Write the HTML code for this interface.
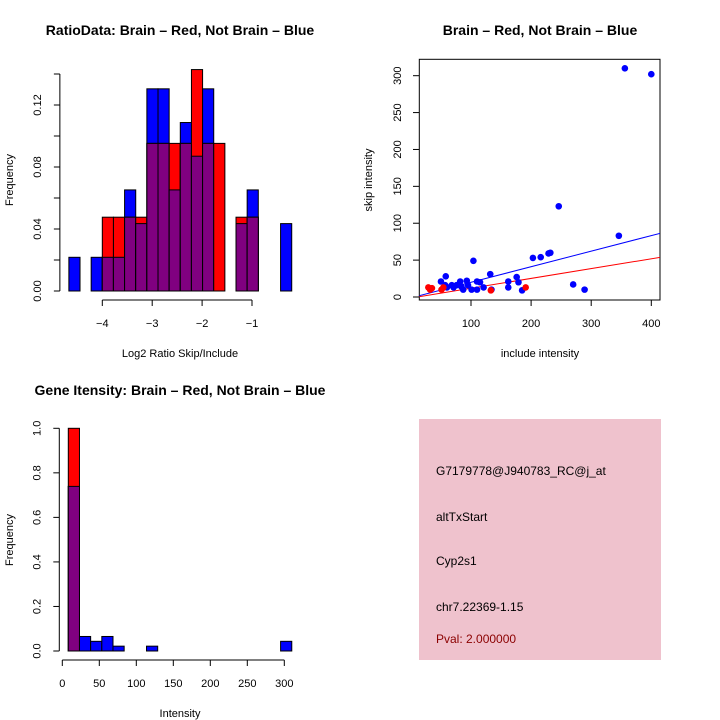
<!DOCTYPE html>
<html><head><meta charset="utf-8"><style>
body{margin:0;background:#fff}
svg{display:block;font-family:"Liberation Sans",Arial,sans-serif}
</style></head><body>
<svg id="s" width="720" height="720" viewBox="0 0 720 720">
<rect width="720" height="720" fill="#fff"/>
<g id="g1"></g>
<g id="g2"></g>
<g id="g3"></g>
<g>
<rect x="419" y="419" width="242" height="241" fill="#efc2cd"/>
<text x="436" y="475" font-size="12">G7179778@J940783_RC@j_at</text>
<text x="436" y="521" font-size="12">altTxStart</text>
<text x="436" y="565" font-size="12">Cyp2s1</text>
<text x="436" y="611" font-size="12">chr7.22369-1.15</text>
<text x="436" y="643" font-size="12" fill="#8b0000">Pval: 2.000000</text>
</g>
</svg>
<script>
// Histogram 1 data (fractions)
const ratioBinsN = 20;
const ratioRedCounts = [0,0,0,1,1,1,1,2,2,2,2,3,2,2,0,1,1,0,0,0];
const ratioBlueCounts = [1,0,1,1,1,3,2,6,6,3,5,4,6,0,0,2,3,0,0,2];
const ratioXTicks = [-4,-3,-2,-1];
const ratioYTicks = [0,0.02,0.04,0.06,0.08,0.10,0.12,0.14];
const ratioYLabels = ["0.00","","0.04","","0.08","","0.12",""];
// Scatter data
const blueX = [356,400,246,346,203,216,229,232,104,270,289,132,176,179,162,162,185,134,58,50,82,93,110,115,121,110,101,87,71,60,68,76,57,95,84];
const blueY = [310,302,123,83,53,54,59,60,49,17,10,31,27,20,21,13,9,10,28,21,21,22,21,20,13,10,10,10,13,13,16,16,16,16,14];
const redX = [29,35,32,51,191,133,54];
const redY = [13,12,10,10,13,9,13];
const blueLine = [-1.15,0.211];
const redLine = [-1.4,0.133];
const scXTicks = [100,200,300,400];
const scYTicks = [0,50,100,150,200,250,300];
// Histogram 3 data
const geneRedCounts = [21,0,0,0,0,0,0,0,0,0,0,0,0,0,0,0,0,0,0,0];
const geneBlueCounts = [34,3,2,3,1,0,0,1,0,0,0,0,0,0,0,0,0,0,0,2];
const geneXTicks = [0,50,100,150,200,250,300];
const geneYTicks = [0,0.2,0.4,0.6,0.8,1.0];
const geneYLabels = ["0.0","0.2","0.4","0.6","0.8","1.0"];

const NS="http://www.w3.org/2000/svg";
function mk(p,t,a){const e=document.createElementNS(NS,t);for(const k in a)e.setAttribute(k,a[k]);p.appendChild(e);return e;}

function histogram(g,red,blue,nR,nB,binStart,binW,xs,ys,xT,yT,yL,xLabelY){
  for(let i=0;i<red.length;i++){
    const r=red[i]/nR,b=blue[i]/nB,x0=xs(binStart+i*binW),x1=xs(binStart+(i+1)*binW);
    if(b>0){const e=mk(g,'rect',{x:x0,y:ys(b),width:x1-x0,height:ys(0)-ys(b),fill:'#0000ff',stroke:'#000','stroke-width':1});
      
      }
    if(r>0){const e=mk(g,'rect',{x:x0,y:ys(r),width:x1-x0,height:ys(0)-ys(r),fill:'#ff0000',stroke:'#000','stroke-width':1});
      
      }
    const m=Math.min(r,b);
    if(m>0){const e=mk(g,'rect',{x:x0,y:ys(m),width:x1-x0,height:ys(0)-ys(m),fill:'#800080',stroke:'#000','stroke-width':1});
      
      }
  }
  const ax=xs(binStart)-9;
  mk(g,'line',{x1:ax,x2:ax,y1:ys(yT[0]),y2:ys(yT[yT.length-1]),stroke:'#000'});
  yT.forEach((v,i)=>{mk(g,'line',{x1:ax-6,x2:ax,y1:ys(v),y2:ys(v),stroke:'#000'});
    if(yL[i]){const t=mk(g,'text',{x:ax-19,y:ys(v),'font-size':11,'text-anchor':'middle',transform:`rotate(-90 ${ax-19} ${ys(v)})`});t.textContent=yL[i];
      
      }});
  const ay=ys(0)+9;
  mk(g,'line',{x1:xs(xT[0]),x2:xs(xT[xT.length-1]),y1:ay,y2:ay,stroke:'#000'});
  xT.forEach(v=>{mk(g,'line',{x1:xs(v),x2:xs(v),y1:ay,y2:ay+6,stroke:'#000'});
    const t=mk(g,'text',{x:xs(v),y:xLabelY,'font-size':11,'text-anchor':'middle'});t.textContent=String(v).replace('-','\u2212');
    
    });
}
function label(g,x,y,txt,size,bold,rot,name){
  const t=mk(g,'text',{x:x,y:y,'font-size':size,'text-anchor':'middle','font-weight':bold?'bold':'normal'});
  if(rot)t.setAttribute('transform',`rotate(-90 ${x} ${y})`);
  t.textContent=txt;
  
  
}

// Plot 1
const g1=document.getElementById('g1');
const w1=0.2233;
const xs1=v=>102.3+(v+4)*49.9, ys1=v=>291-v*1550;
histogram(g1,ratioRedCounts,ratioBlueCounts,21,46,-4-3*w1,w1,xs1,ys1,ratioXTicks,ratioYTicks,ratioYLabels,327);
label(g1,180,35,'RatioData: Brain \u2013 Red, Not Brain \u2013 Blue',14,true,false,'plot-title');
label(g1,180,357,'Log2 Ratio Skip/Include',11,false,false,'x-axis-title');
label(g1,13,180,'Frequency',11,false,true,'y-axis-title');

// Plot 2
const g2=document.getElementById('g2');
const xs2=v=>410.9+v*0.601, ys2=v=>297-v*0.7377;
mk(g2,'rect',{x:419.3,y:59.3,width:240.7,height:240.7,fill:'none',stroke:'#000'});
const cp=mk(g2,'clipPath',{id:'c2'});mk(cp,'rect',{x:419.3,y:59.3,width:240.7,height:240.7});
const lg=mk(g2,'g',{'clip-path':'url(#c2)'});
[[blueLine,'#0000ff','fit-line-blue'],[redLine,'#ff0000','fit-line-red']].forEach(([c,col,n])=>{
  const e=mk(lg,'line',{x1:xs2(0),y1:ys2(c[0]),x2:xs2(450),y2:ys2(c[0]+c[1]*450),stroke:col,'stroke-width':1});
  
  });
blueX.forEach((x,i)=>{const e=mk(lg,'circle',{cx:xs2(x),cy:ys2(blueY[i]),r:3.3,fill:'#0000ff'});
  
  });
redX.forEach((x,i)=>{const e=mk(lg,'circle',{cx:xs2(x),cy:ys2(redY[i]),r:3.3,fill:'#ff0000'});
  
  });
scXTicks.forEach(v=>{mk(g2,'line',{x1:xs2(v),x2:xs2(v),y1:300,y2:306,stroke:'#000'});
  const t=mk(g2,'text',{x:xs2(v),y:327,'font-size':11,'text-anchor':'middle'});t.textContent=v;
  
  });
scYTicks.forEach(v=>{mk(g2,'line',{x1:413,x2:419.3,y1:ys2(v),y2:ys2(v),stroke:'#000'});
  const t=mk(g2,'text',{x:401,y:ys2(v),'font-size':11,'text-anchor':'middle',transform:`rotate(-90 401 ${ys2(v)})`});t.textContent=v;
  
  });
label(g2,540,35,'Brain \u2013 Red, Not Brain \u2013 Blue',14,true,false,'plot-title');
label(g2,540,357,'include intensity',11,false,false,'x-axis-title');
label(g2,372,180,'skip intensity',11,false,true,'y-axis-title');

// Plot 3
const g3=document.getElementById('g3');
const xs3=v=>62.3+v*0.74, ys3=v=>651-v*222.7;
histogram(g3,geneRedCounts,geneBlueCounts,21,46,8.1,15.1,xs3,ys3,geneXTicks,geneYTicks,geneYLabels,687);
label(g3,180,395,'Gene Itensity: Brain \u2013 Red, Not Brain \u2013 Blue',14,true,false,'plot-title');
label(g3,180,717,'Intensity',11,false,false,'x-axis-title');
label(g3,13,540,'Frequency',11,false,true,'y-axis-title');
</script>
</body></html>
